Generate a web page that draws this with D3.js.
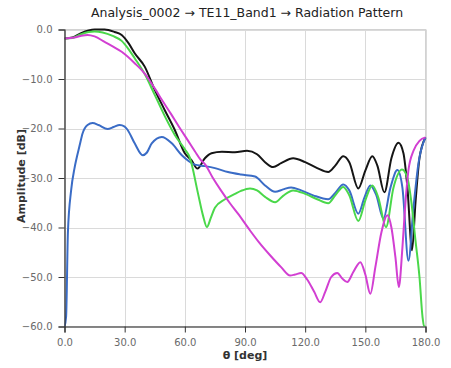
<!DOCTYPE html>
<html><head><meta charset="utf-8">
<script src="https://cdn.jsdelivr.net/npm/d3@7"></script>
<style>
html,body{margin:0;padding:0;background:#fff;}
svg{display:block;font-family:"DejaVu Sans",Verdana,sans-serif;}
</style></head>
<body><svg id="chart" width="451" height="368"></svg>
<script>
// ---- data (theta in deg, amplitude in dB) ----
const titleText = "Analysis_0002 \u2192 TE11_Band1 \u2192 Radiation Pattern";
const xLabel = "\u03b8 [deg]";
const yLabel = "Amplitude [dB]";
const xTicks = [0, 30, 60, 90, 120, 150, 180];
const yTicks = [0, -10, -20, -30, -40, -50, -60];

const blackTheta = [0,4,8,12,15,20,25,28.5,32,35,40,45,50,55,60,63.3,66.3,70,73.3,78.5,85,91,96,100,104,108,114,120,126,131.5,135,139,142,146.5,150,153.5,156,159.5,163,166.5,169,171,173.3,175,177,180];
const blackDb    = [-1.8,-1.6,-0.8,-0.2,0,0,-0.5,-1.1,-2.8,-4.8,-7.5,-12.2,-16.3,-20.3,-25,-26.4,-28.1,-26,-25,-24.7,-24.8,-24.5,-25.2,-26.8,-27.8,-27,-26,-26.8,-28,-28.8,-27.5,-25.6,-26.8,-32.1,-28.5,-25.6,-27.5,-32.9,-26,-22.9,-25,-32,-44.6,-35,-26,-21.8];

const blueTheta = [0,0.8,1.7,3.3,5,5.8,7.5,9,11.5,14,17,21.5,24.5,27.5,30,31.5,35,39,41,43.5,48.5,53.5,58.5,62,65,70,75,81.5,88,95,100,105,109,113,118,124,131.5,135,139,142,146.5,149.5,152.5,155.5,159,162.5,166,168.5,171.5,174,176.5,180];
const blueDb    = [-60,-58,-41,-32.5,-28,-26.4,-23.5,-21,-19.3,-18.9,-19.3,-20.1,-19.7,-19.3,-19.6,-20.3,-23,-25.4,-24.9,-23,-21.7,-23,-25.4,-26.6,-27.3,-27.6,-28,-28.8,-29.3,-29.7,-31.5,-32.8,-32.3,-31.9,-32.5,-33.5,-34.3,-33,-31.3,-32.5,-37.2,-34,-31.5,-33.5,-38.2,-32,-28.4,-32,-46.7,-36,-27,-21.8];

const greenTheta = [0,4,8,12,15,19,24,28.5,32,35,40,45,50,55,60,62.5,66.5,69,71,73,75,80,85,88,92.5,96,100,105,109,114,120,126,131.5,135,139,142,146.5,150,153.5,156.5,160.3,164,168.3,171,173,175,177,178.5,179.3,180];
const greenDb    = [-1.8,-1.7,-1.0,-0.5,-0.4,-0.6,-1.3,-2.3,-4,-5.8,-9,-13.2,-17.5,-21.3,-24.2,-25.9,-33,-37.5,-39.9,-38,-36,-34.3,-33.2,-32.6,-32.1,-32.5,-33.8,-34.9,-33.6,-32.5,-33.2,-34.3,-35.1,-33.5,-31.8,-33.5,-38.7,-34.5,-31.5,-34,-39.9,-32,-28.3,-30,-35,-42.6,-50,-58,-60,-60];

const magentaTheta = [0,5,8,11.5,15,20,24,28.5,35,40,45,49,53,57,61.5,65,68,70,74,78,82.5,86.5,92.5,97,102.5,108,112.5,115,118,121,124.5,127.5,130,133,136,138.5,141,144,147.5,150,152.5,155,158,161,163,165,166.7,168.5,170,171.5,174,177,180];
const magentaDb    = [-1.8,-1.6,-1.3,-1.1,-1.4,-2.5,-3.4,-4.5,-6.8,-8.9,-11.9,-14.5,-17,-19.6,-22.4,-24.6,-26.4,-27.2,-30,-32.5,-35.1,-37.2,-40.6,-43,-45.6,-48,-49.7,-49.5,-49.2,-50.5,-53,-55.1,-53,-50,-49.2,-50.3,-51,-49,-47,-49.5,-53.4,-48,-41,-37.5,-40,-46,-52,-44,-35,-28.4,-24.5,-22.5,-21.8];

const seriesNames  = ["black", "blue", "green", "magenta"];
const seriesColors = ["#151515", "#3a6cc6", "#4ad84a", "#d23fd2"];

// ---- chart ----
const svg = d3.select("#chart");
const L = 64.5, R = 425.5, T = 29.5, B = 326.5;
const x = d3.scaleLinear().domain([0, 180]).range([L, R]);
const y = d3.scaleLinear().domain([0, -60]).range([T, B]);

// grid
const g = svg.append("g");
g.selectAll("line.gx").data(xTicks).join("line")
  .attr("x1", d => Math.round(x(d)) + 0.5).attr("x2", d => Math.round(x(d)) + 0.5)
  .attr("y1", T).attr("y2", B).attr("stroke", "#dadada").attr("stroke-width", 1);
g.selectAll("line.gy").data(yTicks).join("line")
  .attr("y1", d => Math.round(y(d)) + 0.5).attr("y2", d => Math.round(y(d)) + 0.5)
  .attr("x1", L).attr("x2", R).attr("stroke", "#dadada").attr("stroke-width", 1);
svg.append("rect").attr("x", L).attr("y", T).attr("width", R - L).attr("height", B - T)
  .attr("fill", "none").attr("stroke", "#d2d2d2");

// series
const series = [
  [blackTheta, blackDb], [blueTheta, blueDb], [greenTheta, greenDb], [magentaTheta, magentaDb]
];
const line = d3.line().x(d => x(d[0])).y(d => y(d[1])).curve(d3.curveMonotoneX);
svg.append("clipPath").attr("id", "clp").append("rect")
  .attr("x", L).attr("y", T - 3).attr("width", R - L + 2).attr("height", B - T + 3);
[0, 1, 2, 3].forEach(i => {
  const [th, db] = series[i];
  svg.append("path").datum(th.map((t, k) => [t, db[k]]))
    .attr("d", line).attr("fill", "none")
    .attr("stroke", seriesColors[i]).attr("stroke-width", 2)
    .attr("stroke-linejoin", "round").attr("clip-path", "url(#clp)");
});

// axes
const xMinor = d3.range(0, 181, 5);
const yMinor = d3.range(0, -61, -2);
const axX = svg.append("g").attr("transform", `translate(0,${B})`);
axX.call(d3.axisBottom(x).tickValues(xMinor).tickSize(4).tickFormat(""));
axX.call(d3.axisBottom(x).tickValues(xTicks).tickSize(6).tickPadding(6).tickFormat(d3.format(".1f")));
const axY = svg.append("g").attr("transform", `translate(${L},0)`);
axY.call(d3.axisLeft(y).tickValues(yMinor).tickSize(4).tickFormat(""));
axY.call(d3.axisLeft(y).tickValues(yTicks).tickSize(6).tickPadding(6).tickFormat(d3.format(".1f")));
svg.selectAll(".domain").attr("stroke", "#333").attr("stroke-width", 1.2);
svg.selectAll(".tick line").attr("stroke", "#333");
svg.selectAll(".tick text").attr("fill", "#6a6a6a").attr("font-size", "10px")
  .attr("font-family", "'DejaVu Sans', Verdana, sans-serif");

// labels
svg.append("text").attr("x", 247).attr("y", 17).attr("text-anchor", "middle")
  .attr("font-size", "12.5px").attr("fill", "#222").text(titleText);
svg.append("text").attr("x", 245).attr("y", 359).attr("text-anchor", "middle")
  .attr("font-size", "11px").attr("font-weight", "bold").attr("fill", "#333").text(xLabel);
svg.append("text").attr("transform", "translate(25,176) rotate(-90)").attr("text-anchor", "middle")
  .attr("font-size", "11px").attr("font-weight", "bold").attr("fill", "#333").text(yLabel);
</script></body></html>
